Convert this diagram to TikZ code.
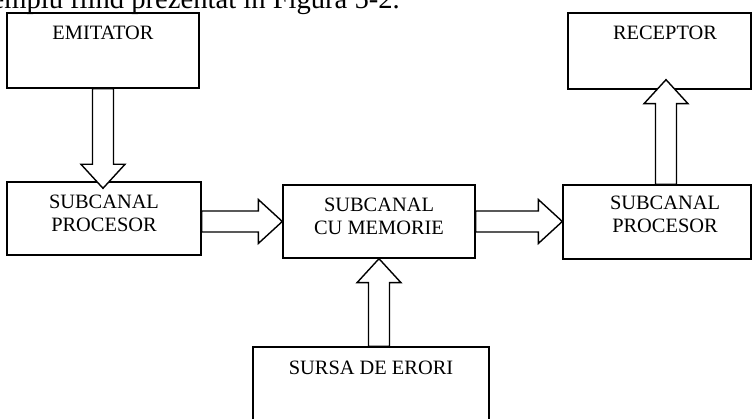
\documentclass[tikz,border=0pt]{standalone}
\usepackage{fontspec}
\setmainfont{Liberation Serif}
\usetikzlibrary{calc}
\tikzset{
  box/.style={draw, line width=1.4pt, inner sep=0pt},
  lbl/.style={font=\fontsize{20.4}{23}\selectfont, align=center, inner sep=0pt},
  fat/.style={draw, fill=white, line width=1.4pt},
}
% hollow block arrow from #1 to #2
\newcommand{\fatarrow}[2]{%
  \coordinate (fah) at ($(#2)!24pt!(#1)$);
  \draw[fat] ($(#1)!10.5pt!90:(#2)$) -- ($(fah)!10.5pt!90:(#2)$) -- ($(fah)!22pt!90:(#2)$) -- (#2)
    -- ($(fah)!22pt!-90:(#2)$) -- ($(fah)!10.5pt!-90:(#2)$) -- ($(#1)!10.5pt!-90:(#2)$) -- cycle;}
\begin{document}
\begin{tikzpicture}[x=1pt,y=-1pt]
\clip (0,0) rectangle (752,419);
\node[anchor=base east, inner sep=0pt, font=\fontsize{28.6}{30}\selectfont] (intro) at (400,9) {exemplu fiind prezentat în Figura 5-2.};
%
\node[box, minimum width=192, minimum height=75] (emit) at (103,50.5) {};
\node[lbl] (emitT) at (103,33) {EMITATOR};
%
\node[box, minimum width=194, minimum height=73] (proc1) at (104,218.5) {};
\node[lbl] (proc1T) at (104,213.5) {SUBCANAL\\PROCESOR};
%
\node[box, minimum width=192, minimum height=73] (mem) at (379,221.5) {};
\node[lbl] (memT) at (379,216) {SUBCANAL\\CU MEMORIE};
%
\node[box, minimum width=188, minimum height=74] (proc2) at (657,222) {};
\node[lbl] (proc2T) at (665,214) {SUBCANAL\\PROCESOR};
%
\node[box, minimum width=183, minimum height=76] (rec) at (659.5,51) {};
\node[lbl] (recT) at (665,33) {RECEPTOR};
%
\node[box, minimum width=236, minimum height=103] (err) at (371,398.5) {};
\node[lbl] (errT) at (371,368) {SURSA DE ERORI};
%
\coordinate (in1) at ($(emit.south |- proc1.north)+(0,7)$);
\fatarrow{emit.south}{in1}
\coordinate (out1) at (proc1.east |- mem.west);
\fatarrow{out1}{mem.west}
\coordinate (in2) at (proc2.west |- mem.east);
\fatarrow{mem.east}{in2}
\coordinate (up) at (666,0);
\coordinate (out2) at (up |- proc2.north);
\coordinate (in3) at ($(up |- rec.south)+(0,-10)$);
\fatarrow{out2}{in3}
\coordinate (out3) at (mem.south |- err.north);
\fatarrow{out3}{mem.south}
\end{tikzpicture}
\end{document}
